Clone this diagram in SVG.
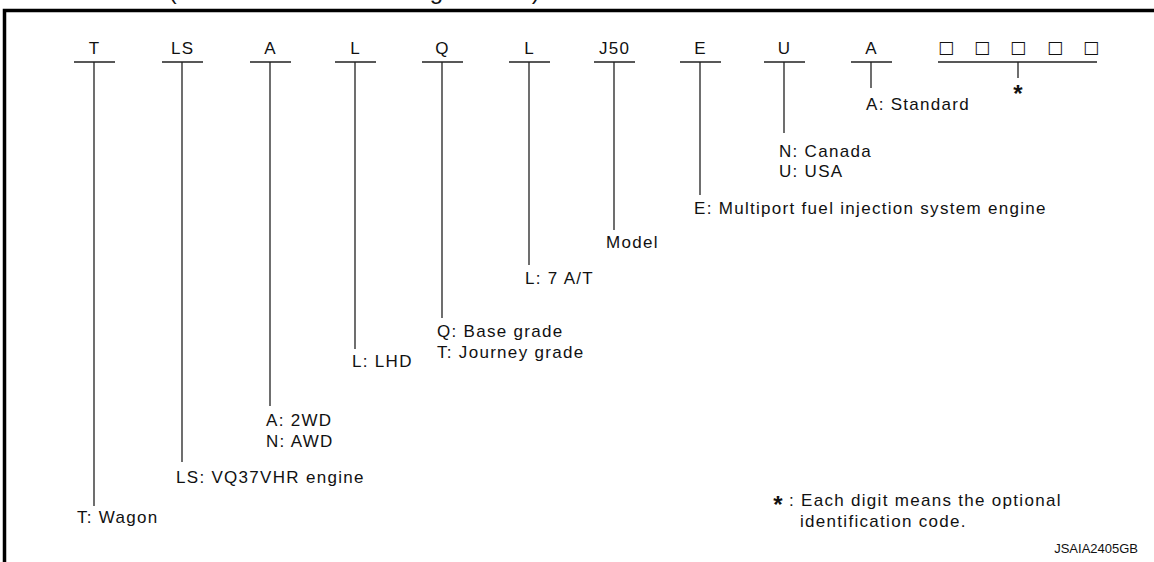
<svg xmlns="http://www.w3.org/2000/svg" width="1154" height="562" viewBox="0 0 1154 562">
<style>
text{font-family:"Liberation Sans",Arial,Helvetica,sans-serif;fill:#111;}
.t{font-size:17px;letter-spacing:1.3px;}
.c{text-anchor:middle;}
.ln{stroke:#222;stroke-width:1.3;fill:none;}
.sq{font-family:"DejaVu Sans",sans-serif;font-size:17px;text-anchor:middle;}
.st{font-weight:bold;font-size:24px;text-anchor:middle;}
</style>
<rect width="1154" height="562" fill="#fff"/>
<text x="-16" y="-1" font-size="24" letter-spacing="1.4" fill="#333">Variation Code (Prefix and suffix designations)</text>
<path d="M4.5,562 V10.5 H1154" stroke="#000" stroke-width="3.5" fill="none"/>
<g id="connectors">
<path class="ln" d="M74,62H115 M94,62V506"/>
<path class="ln" d="M162,62H203 M182,62V462"/>
<path class="ln" d="M250,62H291 M270,62V406"/>
<path class="ln" d="M335,62H376 M355,62V349"/>
<path class="ln" d="M422,62H463 M442,62V318"/>
<path class="ln" d="M509,62H550 M529,62V265"/>
<path class="ln" d="M594,62H635 M614,62V230"/>
<path class="ln" d="M680,62H721 M700,62V195"/>
<path class="ln" d="M764,62H805 M784,62V133"/>
<path class="ln" d="M851,62H892 M871,62V88"/>
<path class="ln" d="M938,62H1097 M1018,62V78"/>
</g>
<g id="n-T"><text class="t c" x="94.6" y="54">T</text><text class="t" x="77" y="523">T: Wagon</text></g>
<g id="n-LS"><text class="t c" x="182.6" y="54">LS</text><text class="t" x="176" y="483">LS: VQ37VHR engine</text></g>
<g id="n-A"><text class="t c" x="270.6" y="54">A</text><text class="t" x="266" y="426">A: 2WD</text><text class="t" x="266" y="447">N: AWD</text></g>
<g id="n-L1"><text class="t c" x="355.6" y="54">L</text><text class="t" x="352" y="367">L: LHD</text></g>
<g id="n-Q"><text class="t c" x="442.6" y="54">Q</text><text class="t" x="437" y="337">Q: Base grade</text><text class="t" x="437" y="358">T: Journey grade</text></g>
<g id="n-L2"><text class="t c" x="529.6" y="54">L</text><text class="t" x="525" y="284">L: 7 A/T</text></g>
<g id="n-J50"><text class="t c" x="614.6" y="54">J50</text><text class="t" x="606" y="248">Model</text></g>
<g id="n-E"><text class="t c" x="700.6" y="54">E</text><text class="t" x="694" y="214">E: Multiport fuel injection system engine</text></g>
<g id="n-U"><text class="t c" x="784.6" y="54">U</text><text class="t" x="779" y="157">N: Canada</text><text class="t" x="779" y="177">U: USA</text></g>
<g id="n-A2"><text class="t c" x="871.6" y="54">A</text><text class="t" x="866" y="110">A: Standard</text></g>
<g id="n-opt">
<text class="sq" x="946" y="53">□</text><text class="sq" x="982" y="53">□</text><text class="sq" x="1018" y="53">□</text><text class="sq" x="1055" y="53">□</text><text class="sq" x="1091" y="53">□</text>
<text class="st" x="1018" y="102">*</text>
</g>
<g id="note">
<text class="st" x="778" y="513">*</text>
<text class="t" x="789" y="506">: Each digit means the optional</text>
<text class="t" x="800" y="527">identification code.</text>
</g>
<text x="1138" y="553" font-size="13" text-anchor="end">JSAIA2405GB</text>
</svg>
